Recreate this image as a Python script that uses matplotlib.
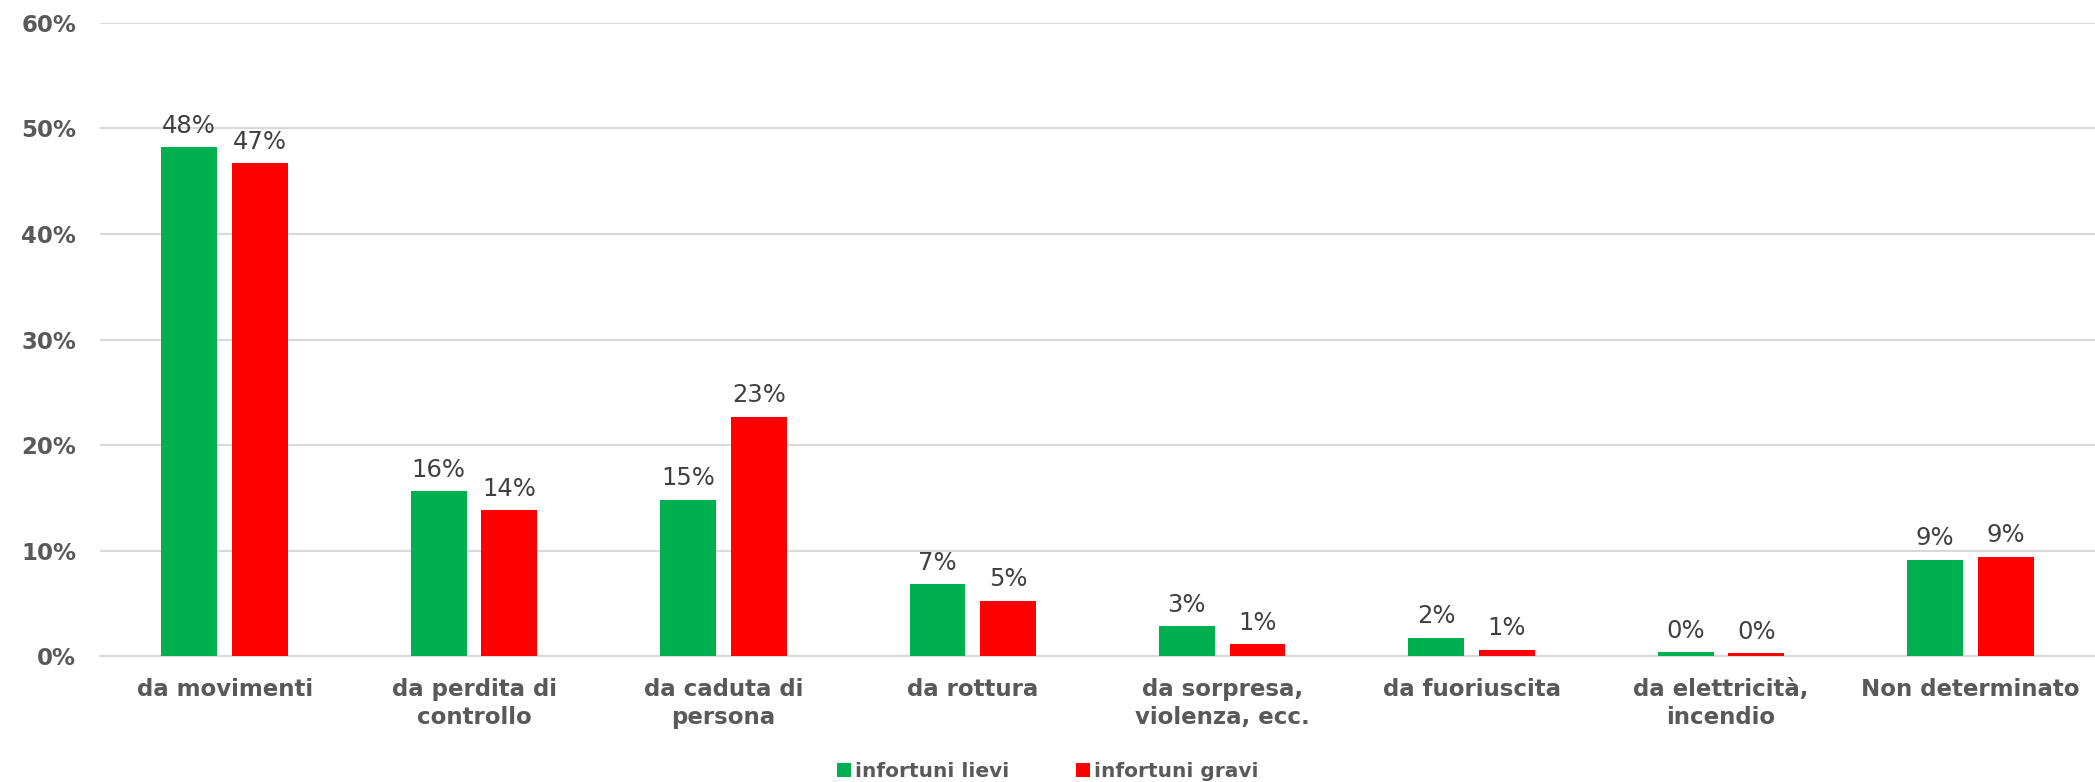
import matplotlib
matplotlib.use('Agg')
import matplotlib.pyplot as plt
import numpy as np

categories = ['da movimenti', 'da perdita di\ncontrollo', 'da caduta di\npersona', 'da rottura',
              'da sorpresa,\nviolenza, ecc.', 'da fuoriuscita', 'da elettricità,\nincendio', 'Non determinato']
lievi = [48.2, 15.6, 14.8, 6.8, 2.8, 1.7, 0.35, 9.1]
gravi = [46.7, 13.8, 22.7, 5.2, 1.1, 0.55, 0.25, 9.4]
series_names = ['infortuni lievi', 'infortuni gravi']
yticks = [0, 10, 20, 30, 40, 50, 60]

GREEN = '#00b050'
RED = '#ff0000'
GRID = '#d9d9d9'
TXT = '#595959'

def main():
    plt.rcParams['font.family'] = ['DejaVu Sans']

    fig = plt.figure(figsize=(20.95, 7.82), dpi=100)
    ax = fig.add_axes([0.0477, 0.1611, 0.9523, 0.8095])

    x = np.arange(len(categories))
    w = 0.224
    off = 0.1416

    b1 = ax.bar(x - off, lievi, w, color=GREEN, label=series_names[0], zorder=3)
    b2 = ax.bar(x + off, gravi, w, color=RED, label=series_names[1], zorder=3)

    for bars, vals in ((b1, lievi), (b2, gravi)):
        for rect, v in zip(bars, vals):
            ax.annotate(f'{v:.0f}%', (rect.get_x() + rect.get_width() / 2, v),
                        xytext=(0, 7), textcoords='offset points',
                        ha='center', va='bottom', fontsize=17.5, color='#404040')

    ax.set_xlim(-0.5, len(categories) - 0.5)
    ax.set_ylim(0, 60)
    ax.set_yticks(yticks)
    ax.set_yticklabels([f'{t}%' for t in yticks], fontsize=16.5, fontweight='bold', color=TXT)
    ax.set_xticks(x)
    ax.set_xticklabels(categories, fontsize=16.5, fontweight='bold', color=TXT, linespacing=1.25)
    ax.tick_params(axis='both', length=0)
    ax.tick_params(axis='y', pad=17)
    ax.tick_params(axis='x', pad=16)

    ax.grid(axis='y', color=GRID, linewidth=1.5, zorder=0)
    for s in ['top', 'right', 'left']:
        ax.spines[s].set_visible(False)
    ax.spines['bottom'].set_color(GRID)
    ax.spines['bottom'].set_linewidth(1.5)

    leg = fig.legend(loc='center', bbox_to_anchor=(0.5, 0.013), ncol=2, frameon=False,
                     handlelength=0.7, handleheight=0.7, handletextpad=0.2, columnspacing=3.3,
                     prop={'size': 14.5, 'weight': 'bold'})
    for t in leg.get_texts():
        t.set_color(TXT)

    fig.savefig('out.png', dpi=100)

if __name__ == '__main__':
    main()
